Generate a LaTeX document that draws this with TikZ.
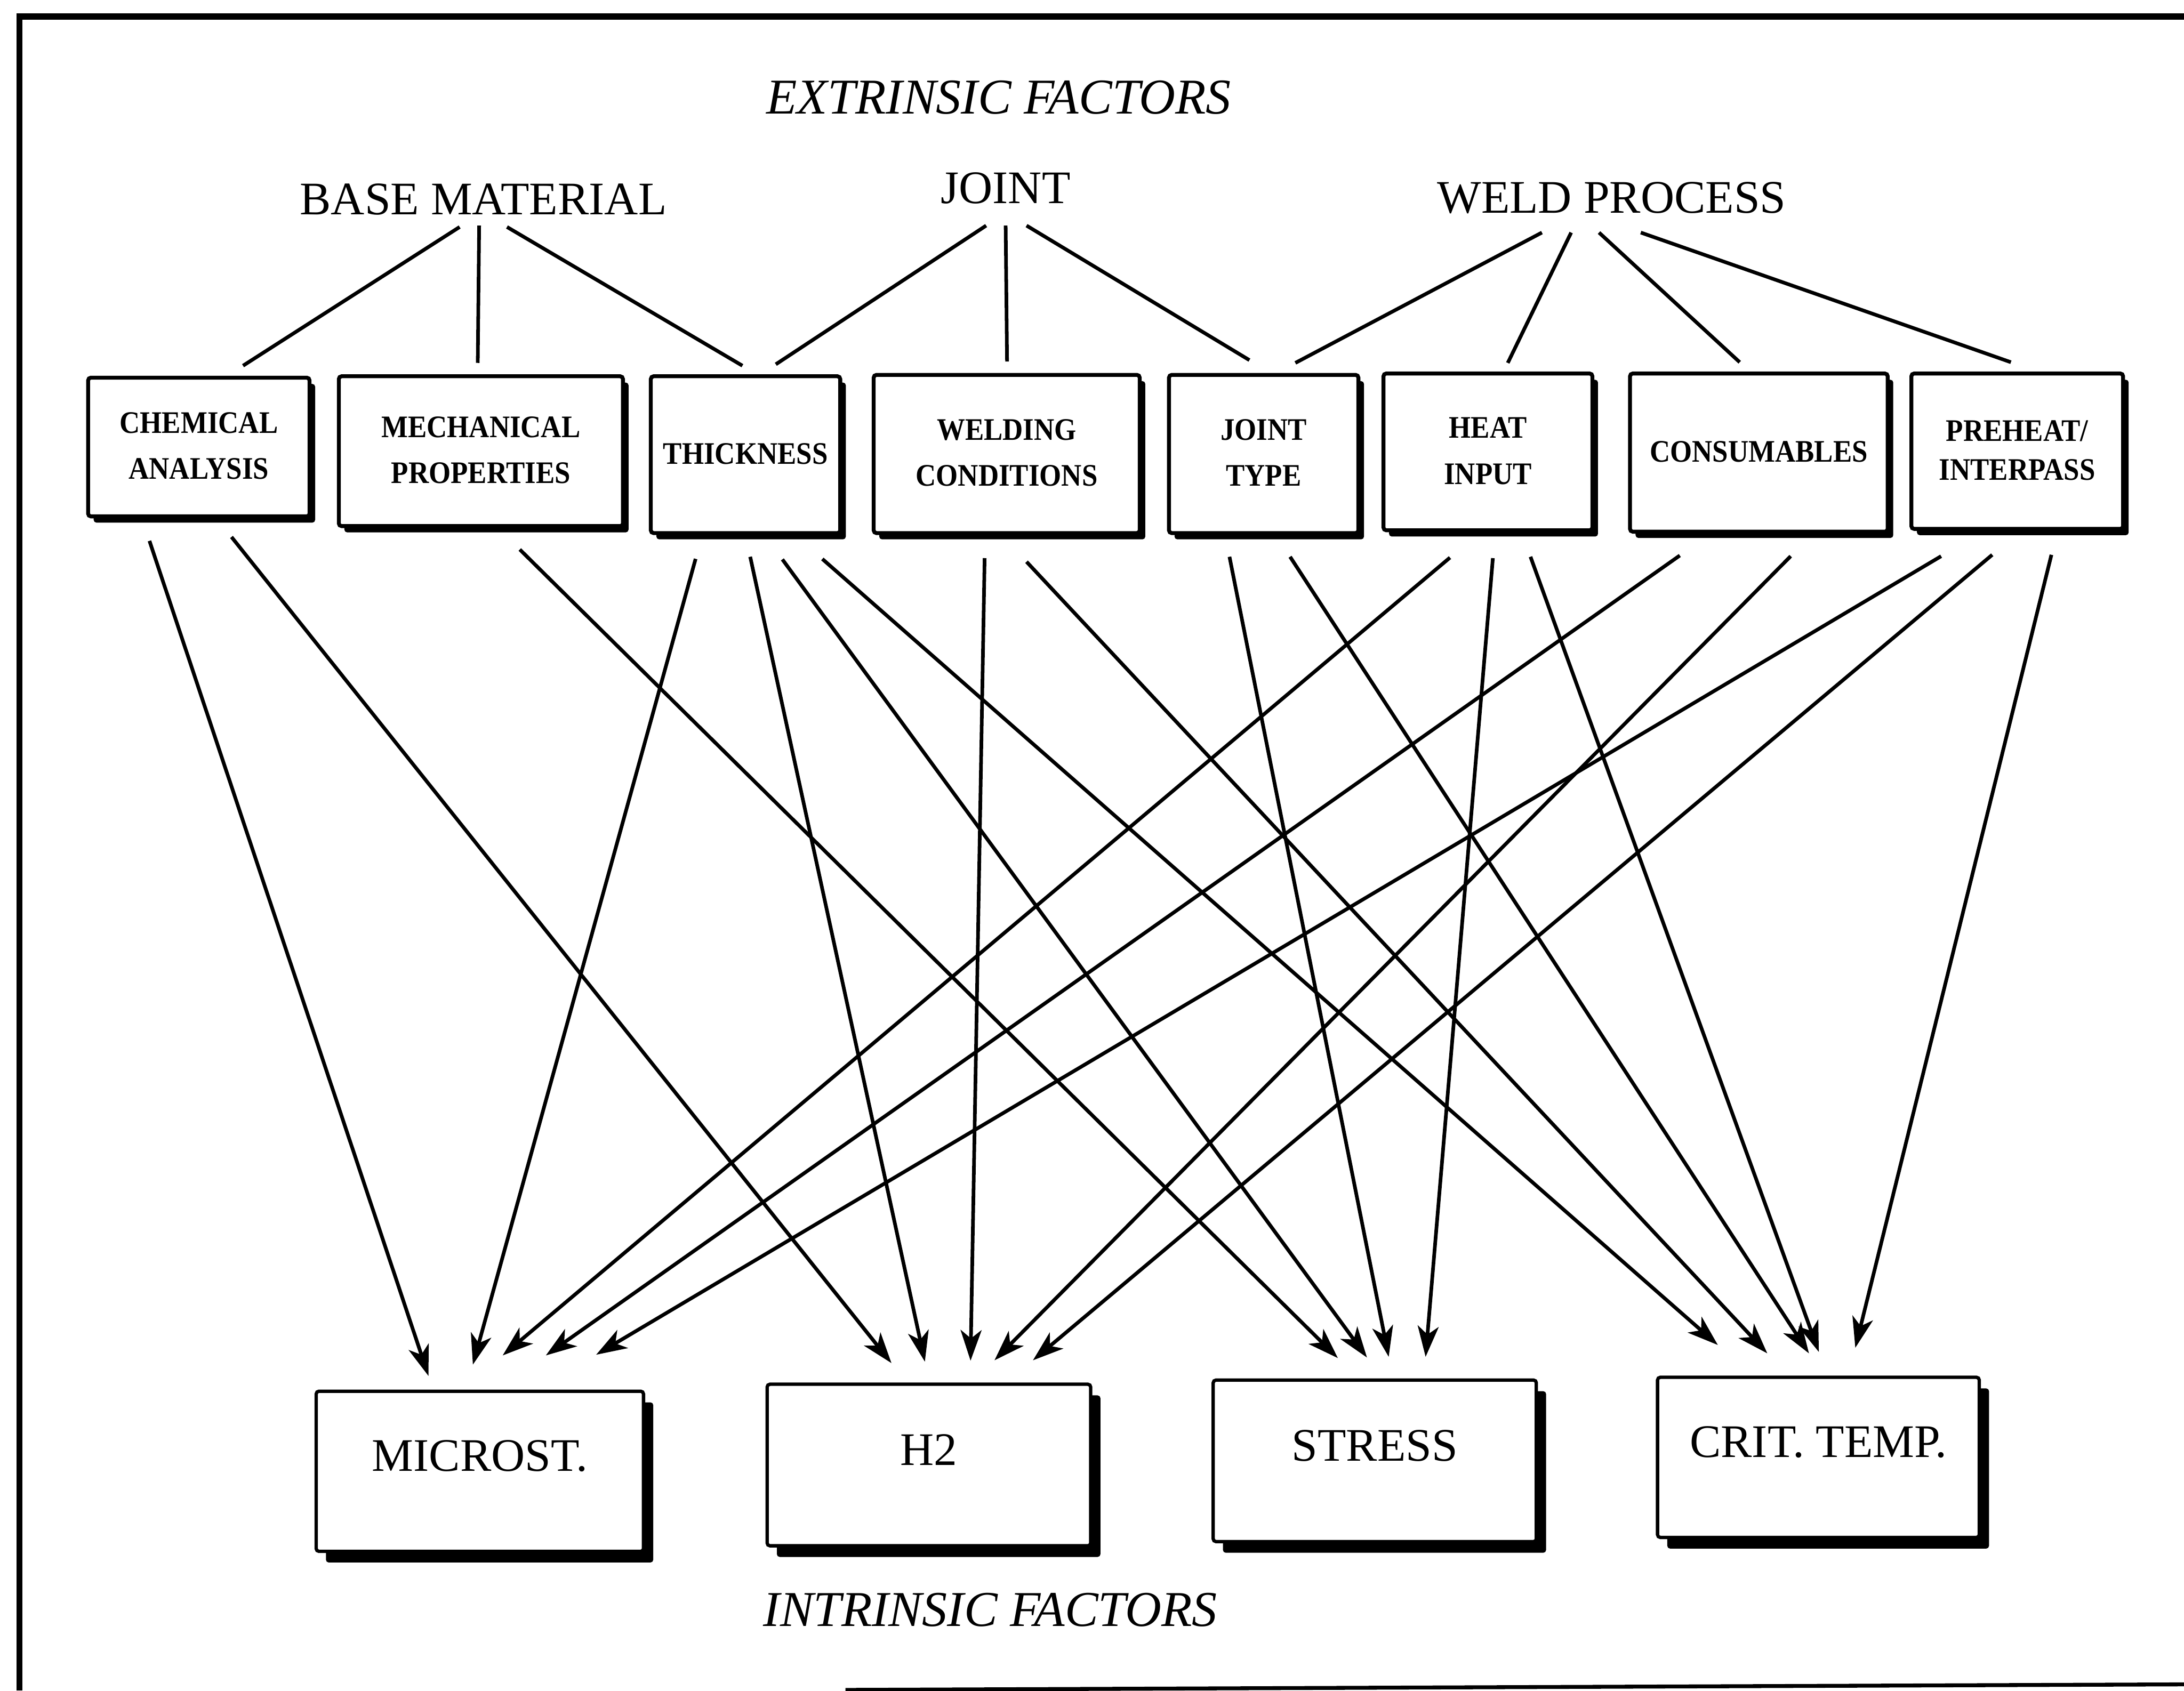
\documentclass[tikz,border=0pt]{standalone}
\usepackage{graphicx}
\usepackage{fontspec}
\setmainfont{Liberation Serif}
\usetikzlibrary{arrows.meta,shadows}
% condensed bold caption inside the upper boxes
\newcommand{\boxtext}[1]{\scalebox{0.9}[1]{\begin{tabular}{@{}c@{}}#1\end{tabular}}}
\begin{document}
\begin{tikzpicture}[x=1pt,y=-1pt,
  topbox/.style={draw, line width=2.8pt, rounded corners=2pt, fill=white,
    inner sep=0pt, font=\fontsize{22.5}{33}\selectfont\bfseries,
    drop shadow={fill=black, opacity=1, shadow xshift=4pt, shadow yshift=-4.5pt}},
  lowbox/.style={draw, line width=2.4pt, rounded corners=2pt, fill=white,
    inner sep=0pt, text height=0pt, text depth=0pt,
    font=\fontsize{33.5}{40}\selectfont,
    drop shadow={fill=black, opacity=1, shadow xshift=7pt, shadow yshift=-8pt}},
  group/.style={inner sep=0pt, font=\fontsize{33.5}{40}\selectfont},
  title/.style={inner sep=0pt, font=\fontsize{36}{42}\selectfont\itshape},
  conn/.style={line width=2.6pt},
  arr/.style={conn, -{Stealth[length=22pt, width=15pt, inset=6pt]}}]

\useasboundingbox (0,0) rectangle (1568,1214);
\fill[white] (0,0) rectangle (1568,1214);

% frame
\draw[line width=4.5pt, line join=miter] (14,1214) -- (14,12) -- (1568,12);
\draw[line width=2.8pt] (607,1213.5) -- (1568,1209.5);

% headings
\node[title] (extr) at (717,70) {EXTRINSIC FACTORS};
\node[title] (intr) at (711,1156) {INTRINSIC FACTORS};
\node[group] (base) at (347,143) {BASE MATERIAL};
\node[group] (joint) at (722,135) {JOINT};
\node[group] (wproc) at (1157,142) {WELD PROCESS};

% extrinsic factor boxes
\node[topbox, minimum width=159pt, minimum height=99.6pt] (chem) at (142.75,321) {\boxtext{CHEMICAL\\ANALYSIS}};
\node[topbox, minimum width=204pt, minimum height=107.6pt] (mech) at (345.25,324) {\boxtext{MECHANICAL\\PROPERTIES}};
\node[topbox, minimum width=136pt, minimum height=112.6pt] (thick) at (535.25,326.5) {\boxtext{THICKNESS}};
\node[topbox, minimum width=191pt, minimum height=113.6pt] (weld) at (722.75,326) {\boxtext{WELDING\\CONDITIONS}};
\node[topbox, minimum width=136pt, minimum height=113.6pt] (jtype) at (907.25,326) {\boxtext{JOINT\\TYPE}};
\node[topbox, minimum width=150pt, minimum height=112.6pt] (heat) at (1068.25,324.5) {\boxtext{HEAT\\INPUT}};
\node[topbox, minimum width=185pt, minimum height=113.6pt] (cons) at (1262.75,325) {\boxtext{CONSUMABLES}};
\node[topbox, minimum width=152pt, minimum height=111.6pt] (pre) at (1448.25,324) {\boxtext{PREHEAT/\\[-5pt]INTERPASS}};

% intrinsic factor boxes
\node[lowbox, minimum width=235pt, minimum height=115pt] (micro) at (344.5,1056.5) {MICROST.};
\node[lowbox, minimum width=232.3pt, minimum height=116pt] (htwo) at (666.9,1052) {H2};
\node[lowbox, minimum width=232pt, minimum height=116pt] (stress) at (987,1049) {STRESS};
\node[lowbox, minimum width=231pt, minimum height=115pt] (crit) at (1305.5,1046.5) {CRIT. TEMP.};

% group lines
\draw[conn] ([shift={(-17,20)}]base.center) -- ([shift={(31.75,-7.2)}]chem.north);
\draw[conn] ([shift={(-3,19)}]base.center) -- ([shift={(-2.25,-8.2)}]mech.north);
\draw[conn] ([shift={(17,20)}]base.center) -- ([shift={(-2.25,-6.2)}]thick.north);
\draw[conn] ([shift={(-14,27)}]joint.center) -- ([shift={(21.75,-7.2)}]thick.north);
\draw[conn] ([shift={(0,27)}]joint.center) -- ([shift={(0.25,-8.2)}]weld.north);
\draw[conn] ([shift={(15,27)}]joint.center) -- ([shift={(-10.25,-9.2)}]jtype.north);
\draw[conn] ([shift={(-50,25)}]wproc.center) -- ([shift={(22.75,-7.2)}]jtype.north);
\draw[conn] ([shift={(-29,25)}]wproc.center) -- ([shift={(14.25,-6.2)}]heat.north);
\draw[conn] ([shift={(-9,25)}]wproc.center) -- ([shift={(-13.75,-6.7)}]cons.north);
\draw[conn] ([shift={(21,25)}]wproc.center) -- ([shift={(-4.55,-6.7)}]pre.north);

% influences
\draw[arr] ([shift={(-35.45,16.2)}]chem.south) -- ([shift={(-36.9,-9.8)}]micro.north);
\draw[arr] ([shift={(23.45,13.4)}]chem.south) -- ([shift={(-26.9,-14)}]htwo.north);
\draw[arr] ([shift={(27.95,15.4)}]mech.south) -- ([shift={(-26.5,-14.6)}]stress.north);
\draw[arr] ([shift={(-35.85,17.1)}]thick.south) -- ([shift={(-5,-17.9)}]micro.north);
\draw[arr] ([shift={(3.35,15.6)}]thick.south) -- ([shift={(-2.9,-15)}]htwo.north);
\draw[arr] ([shift={(26.45,17.5)}]thick.south) -- ([shift={(-5.6,-15)}]stress.north);
\draw[arr] ([shift={(55.15,17.2)}]thick.south) -- ([shift={(-72.2,-22)}]crit.north);
\draw[arr] ([shift={(-15.85,16.6)}]weld.south) -- ([shift={(29.9,-15.7)}]htwo.north);
\draw[arr] ([shift={(14.25,19.2)}]weld.south) -- ([shift={(-36.7,-16)}]crit.north);
\draw[arr] ([shift={(-24.55,15.6)}]jtype.south) -- ([shift={(10,-15.5)}]stress.north);
\draw[arr] ([shift={(18.95,15.6)}]jtype.south) -- ([shift={(-6.8,-16)}]crit.north);
\draw[arr] ([shift={(-27.25,18.2)}]heat.south) -- ([shift={(16.4,-24.5)}]micro.north);
\draw[arr] ([shift={(3.55,18.6)}]heat.south) -- ([shift={(36.5,-15.5)}]stress.north);
\draw[arr] ([shift={(30.55,17.6)}]heat.south) -- ([shift={(0.3,-17)}]crit.north);
\draw[arr] ([shift={(-56.75,15.7)}]cons.south) -- ([shift={(47.4,-24.5)}]micro.north);
\draw[arr] ([shift={(22.85,16.2)}]cons.south) -- ([shift={(47.1,-16)}]htwo.north);
\draw[arr] ([shift={(-54.65,18.2)}]pre.south) -- ([shift={(83.5,-25)}]micro.north);
\draw[arr] ([shift={(-17.95,17.2)}]pre.south) -- ([shift={(74.7,-16)}]htwo.north);
\draw[arr] ([shift={(24.55,17.2)}]pre.south) -- ([shift={(26.5,-20)}]crit.north);
\end{tikzpicture}
\end{document}
